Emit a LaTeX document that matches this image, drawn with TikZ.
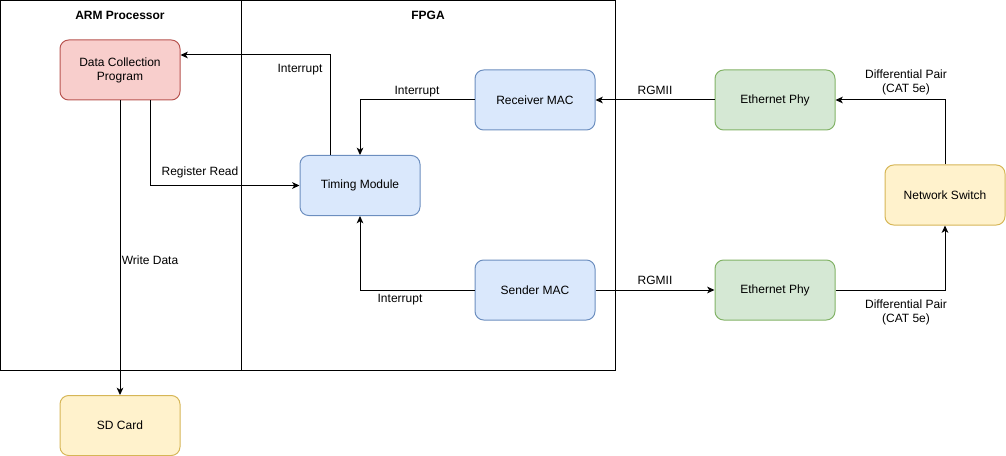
\documentclass[tikz,border=0pt]{standalone}
\usepackage{fontspec}
\setmainfont{Liberation Sans}
\usetikzlibrary{arrows.meta}
\definecolor{redfill}{HTML}{F8CECC}\definecolor{redline}{HTML}{B85450}
\definecolor{bluefill}{HTML}{DAE8FC}\definecolor{blueline}{HTML}{6C8EBF}
\definecolor{greenfill}{HTML}{D5E8D4}\definecolor{greenline}{HTML}{82B366}
\definecolor{yellowfill}{HTML}{FFF2CC}\definecolor{yellowline}{HTML}{D6B656}
\tikzset{
  box/.style={draw, rounded corners=6.5pt, minimum width=90pt, minimum height=45pt, inner sep=0pt, align=center, font=\fontsize{9}{10.5}\selectfont, line width=0.75pt},
  redbox/.style={box, fill=redfill, draw=redline},
  bluebox/.style={box, fill=bluefill, draw=blueline},
  greenbox/.style={box, fill=greenfill, draw=greenline},
  yellowbox/.style={box, fill=yellowfill, draw=yellowline},
  container/.style={draw, line width=0.75pt},
  title/.style={font=\bfseries\fontsize{9}{10.5}\selectfont},
  conn/.style={line width=0.75pt, -{Stealth[length=5.5pt,width=5pt,inset=1.5pt]}},
  lbl/.style={font=\fontsize{9}{10.5}\selectfont, align=center, inner sep=0pt},
}
\begin{document}
\begin{tikzpicture}[x=0.75pt,y=-0.75pt]
\useasboundingbox (0,0) rectangle (1006,456);
% containers
\draw[container] (0.5,0.5) rectangle (241,370);
\draw[container] (241,0.5) rectangle (615,370);
\node[title] (armt) at (120,15) {ARM Processor};
\node[title] (fpgat) at (428,15) {FPGA};
% nodes
\node[redbox] (dcp) at (120,70) {Data Collection\\Program};
\node[yellowbox] (sd) at (120,425.5) {SD Card};
\node[bluebox] (tm) at (360,185.5) {Timing Module};
\node[bluebox] (rx) at (535,100) {Receiver MAC};
\node[bluebox] (tx) at (535,290) {Sender MAC};
\node[greenbox] (ephy1) at (775,100) {Ethernet Phy};
\node[greenbox] (ephy2) at (775,290) {Ethernet Phy};
\node[yellowbox] (sw) at (945,195) {Network Switch};
% connectors
\draw[conn] (tm.north -| 330,0) |- (dcp.east |- 0,55);
\node[lbl] (l1) at (300,70) {Interrupt};
\draw[conn] (rx.west) -| (tm.north);
\node[lbl] (l2) at (417,92) {Interrupt};
\draw[conn] (dcp.south -| 150,0) |- (tm.west);
\node[lbl] (l3) at (200,172) {Register Read};
\draw[conn] (dcp.south) -- (sd.north);
\node[lbl] (l4) at (150,260) {Write Data};
\draw[conn] (tx.west) -| (tm.south);
\node[lbl] (l5) at (400,300) {Interrupt};
\draw[conn] (ephy1.west) -- (rx.east);
\node[lbl] (l6) at (655,90) {RGMII};
\draw[conn] (tx.east) -- (ephy2.west);
\node[lbl] (l7) at (655,280) {RGMII};
\draw[conn] (sw.north) |- (ephy1.east);
\node[lbl] (l8) at (906,82) {Differential Pair\\(CAT 5e)};
\draw[conn] (ephy2.east) -| (sw.south);
\node[lbl] (l9) at (906,312) {Differential Pair\\(CAT 5e)};
\end{tikzpicture}
\end{document}
